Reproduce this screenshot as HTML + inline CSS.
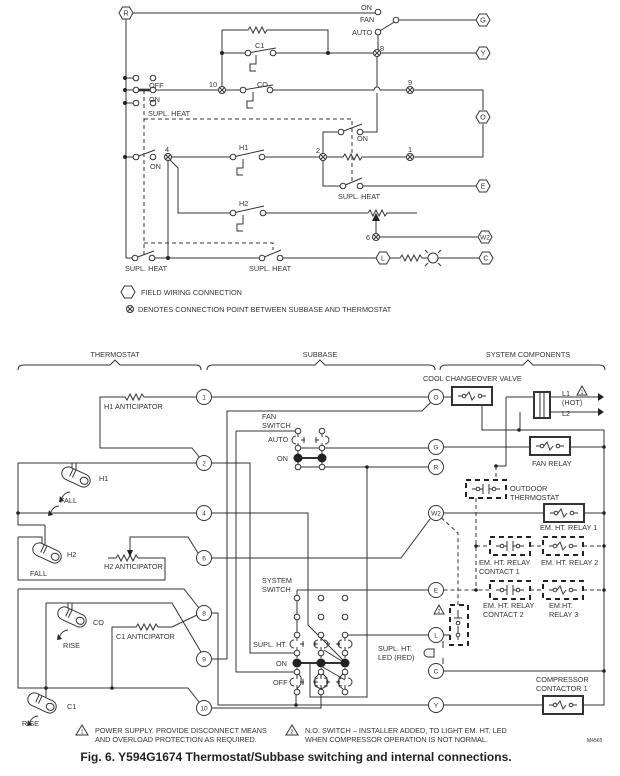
<!DOCTYPE html>
<html><head><meta charset="utf-8"><style>
html,body{margin:0;padding:0;background:#fff}
svg{display:block}
text{font-family:"Liberation Sans",Arial,sans-serif;font-size:7.3px;fill:#333}
.s65{font-size:6.5px}
.s5{font-size:5px}
</style></head><body>
<svg width="620" height="776" viewBox="0 0 620 776" xmlns="http://www.w3.org/2000/svg">
<defs>
<g id="hx"><polygon points="-7,0 -3.5,-6 3.5,-6 7,0 3.5,6 -3.5,6" fill="#fff" stroke="#333" stroke-width="1"/></g>
<g id="xn"><circle r="3.5" fill="#fff" stroke="#333"/><path d="M-2.4,-2.4L2.4,2.4M-2.4,2.4L2.4,-2.4" stroke="#333"/></g>
<g id="oc"><circle r="2.8" fill="#fff" stroke="#333"/></g>
<g id="tc"><circle r="7.5" fill="#fff" stroke="#333"/></g>
<g id="bm"><path d="M0,0V9H-6V16H0" fill="none" stroke="#333"/></g>
<g id="bulb"><g transform="rotate(25)"><rect x="-15" y="-6.5" width="30" height="13" rx="6.5" fill="#fff" stroke="#333"/><ellipse cx="9" cy="0" rx="4" ry="3.5" fill="none" stroke="#333"/><path d="M-6,-6.5V2M-3,-6.5V2" stroke="#333"/></g></g>
<g id="rly"><rect x="-20" y="-9" width="40" height="18" fill="#fff" stroke="#333" stroke-width="2"/><path d="M-14,0H-9M9,0H14M-6,0l3,-4l3,8l3,-4" fill="none" stroke="#333"/><circle cx="-8" r="1.8" fill="#fff" stroke="#333"/><circle cx="8" r="1.8" fill="#fff" stroke="#333"/></g>
<g id="drl"><rect x="-20" y="-9" width="40" height="18" fill="#fff" stroke="#222" stroke-width="2" stroke-dasharray="5,4"/><path d="M-14,0H-9M9,0H14M-6,0l3,-4l3,8l3,-4" fill="none" stroke="#333"/><circle cx="-8" r="1.8" fill="#fff" stroke="#333"/><circle cx="8" r="1.8" fill="#fff" stroke="#333"/></g>
<g id="dct"><rect x="-20" y="-9" width="40" height="18" fill="#fff" stroke="#222" stroke-width="2" stroke-dasharray="5,4"/><path d="M-14,0H-3M3,0H14M-3,-5V5M3,-5V5" fill="none" stroke="#333"/><circle cx="-8" r="1.8" fill="#fff" stroke="#333"/><circle cx="8" r="1.8" fill="#fff" stroke="#333"/></g>
</defs>

<g fill="none" stroke="#333" stroke-width="1">
<path d="M133,13H375"/>
<path d="M378,35V49.5"/>
<path d="M378,32L396,21"/>
<path d="M399,20H476"/>
<path d="M126,19V258H132"/>
<path d="M222,90V30H248l2,-3l3,6l3,-6l3,6l3,-6l3,6l2,-3H328V53"/>
<path d="M222,53H245M248,53L276,48M276,53H374M381,53H476"/>
<path d="M125,78H133M125,90H133M125,103H133"/>
<path d="M136,90H151" stroke-width="2.6"/>
<path d="M156,90H218.5M225.5,90H240M243,90L273,85M273,90H374a3,3 0 0 1 6,0H406.5M413.5,90H483V110M483,124V157H413.5"/>
<path d="M377,56.5V87M377,93V132H363"/>
<path d="M341,132L362,124M338,132H323V186H340M343,186L362,178M363,186H476"/>
<path d="M326.5,157H343l2,-3l3,6l3,-6l3,6l3,-6l3,6l2,-3H406.5"/>
<path d="M126,157H133M136,157L155,150M171.5,157H230M233,157L264,150M265,157H319.5"/>
<path d="M168,160.5V258M170,160L178,168V213H230M233,213L264,206M266,213H368l2,-3l3,6l3,-6l3,6l3,-6l3,6l2,-3H417"/>
<path d="M376,221V233.5M379.5,237H478"/>
<path d="M135,258L154,251M155,258H259M262,258L281,250M283,258H376M390,258H400l2,-3l3,6l3,-6l3,6l3,-6l3,6l3,-6l2,3H428M438,258H479"/>
<circle cx="433" cy="258" r="5"/><path d="M428,253l-3,-3M438,253l3,-3M428,263l-3,3M438,263l3,3"/>
<path d="M144,90V257M144,119H352V182M144,243H273V250" stroke-dasharray="4,3"/>
</g>
<polygon points="372,221 380,221 376,213" fill="#222"/>
<g fill="#222"><circle cx="222" cy="53" r="2"/><circle cx="328" cy="53" r="2"/><circle cx="125" cy="78" r="2"/><circle cx="125" cy="90" r="2"/><circle cx="125" cy="103" r="2"/><circle cx="125" cy="157" r="2"/><circle cx="168" cy="258" r="2"/></g>
<use href="#bm" x="256" y="55"/><use href="#bm" x="253" y="92"/><use href="#bm" x="243" y="159"/><use href="#bm" x="243" y="215"/>
<g>
<use href="#oc" x="378" y="12"/><use href="#oc" x="378" y="32"/><use href="#oc" x="396" y="20"/>
<use href="#oc" x="248" y="53"/><use href="#oc" x="273" y="53"/>
<use href="#oc" x="136" y="78"/><use href="#oc" x="136" y="90"/><use href="#oc" x="136" y="103"/>
<use href="#oc" x="153" y="78"/><use href="#oc" x="153" y="90"/><use href="#oc" x="153" y="103"/>
<use href="#oc" x="243" y="90"/><use href="#oc" x="270" y="90"/>
<use href="#oc" x="341" y="132"/><use href="#oc" x="360" y="132"/>
<use href="#oc" x="343" y="186"/><use href="#oc" x="360" y="186"/>
<use href="#oc" x="136" y="157"/><use href="#oc" x="153" y="157"/>
<use href="#oc" x="233" y="157"/><use href="#oc" x="262" y="157"/>
<use href="#oc" x="233" y="213"/><use href="#oc" x="263" y="213"/>
<use href="#oc" x="135" y="258"/><use href="#oc" x="152" y="258"/>
<use href="#oc" x="262" y="258"/><use href="#oc" x="280" y="258"/>
<use href="#xn" x="377" y="53"/><use href="#xn" x="222" y="90"/><use href="#xn" x="410" y="90"/>
<use href="#xn" x="410" y="157"/><use href="#xn" x="323" y="157"/><use href="#xn" x="168" y="157"/>
<use href="#xn" x="376" y="237"/>
<use href="#hx" x="126" y="13"/><use href="#hx" x="483" y="20"/><use href="#hx" x="483" y="53"/>
<use href="#hx" x="483" y="117"/><use href="#hx" x="483" y="186"/><use href="#hx" x="485" y="237"/>
<use href="#hx" x="383" y="258"/><use href="#hx" x="486" y="258"/>
<use href="#hx" x="128" y="292"/><use href="#xn" x="130" y="309"/>
</g>
<g text-anchor="middle">
<text x="126" y="15.5">R</text><text x="483" y="22.5">G</text><text x="483" y="55.5">Y</text>
<text x="483" y="119.5">O</text><text x="483" y="188.5">E</text><text x="485" y="239.5" class="s65">W2</text>
<text x="383" y="260.5">L</text><text x="486" y="260.5">C</text>
</g>
<text x="361" y="10">ON</text><text x="360" y="22">FAN</text><text x="352" y="35">AUTO</text>
<text x="380" y="51">8</text><text x="255" y="48">C1</text>
<text x="149" y="88">OFF</text><text x="149" y="102">ON</text><text x="148" y="116">SUPL. HEAT</text>
<text x="209" y="87">10</text><text x="257" y="87">CO</text><text x="408" y="85">9</text>
<text x="357" y="141">ON</text><text x="408" y="152">1</text><text x="316" y="153">2</text>
<text x="165" y="152">4</text><text x="150" y="169">ON</text><text x="239" y="150">H1</text>
<text x="338" y="199">SUPL. HEAT</text><text x="239" y="206">H2</text><text x="366" y="240">6</text>
<text x="125" y="271">SUPL. HEAT</text><text x="249" y="271">SUPL. HEAT</text>
<text x="141" y="295">FIELD WIRING CONNECTION</text>
<text x="138" y="312">DENOTES CONNECTION POINT BETWEEN SUBBASE AND THERMOSTAT</text>

<g text-anchor="middle"><text x="115" y="357">THERMOSTAT</text><text x="320" y="357">SUBBASE</text><text x="528" y="357">SYSTEM COMPONENTS</text></g>
<g fill="none" stroke="#333" stroke-width="1">
<path d="M18,370Q18,365 24,365H110L115,360L120,365H196Q201,365 201,370"/>
<path d="M207,370Q207,365 213,365H315L320,360L325,365H429Q435,365 435,370"/>
<path d="M440,370Q440,365 446,365H523L528,360L533,365H599Q605,365 605,370"/>

<path d="M196.5,397H144l-2,-3l-3,6l-3,-6l-3,6l-3,-6l-3,6l-2,-3H100V448H192L200,458"/>
<path d="M211.5,397H428.5"/>
<path d="M196.5,463H18V525M72,463V470M76,463V470"/>
<path d="M18,513H196.5"/>
<path d="M45,525V545M18,525H45"/>
<path d="M18,537H42V543M18,537V580H165V558H138l-2,-3l-3,6l-3,-6l-3,6l-3,-6l-3,6l-3,-6l-2,3H108"/>
<path d="M130,551V537H188L198,553"/>
<path d="M18,589H184L199,608M18,589V688H188L199,702"/>
<path d="M46,603H172L201,652M46,603V697M68,603V610M72,603V610"/>
<path d="M112,688V627H136l2,-3l3,6l3,-6l3,6l3,-6l3,6l3,-6l2,3H172L197,615"/>
<path d="M211.5,613H218V705H428.5"/>
<path d="M211.5,659H227V411H422L431,402"/>
<path d="M211.5,708H321V692"/>
<path d="M211.5,558H401L430,519"/>
<path d="M211.5,463H250V653H294"/>
<path d="M211.5,513H308V625L343,660"/>

<path d="M236,431H295M236,431V672H294"/>
<path d="M298,434V437M298,443V445M298,451V454M322,434V437M322,443V445M322,451V454M298,462V464M322,462V464"/>
<path d="M301,440H305M319,440H315M304,437V443M316,437V443"/>
<path d="M296,436a4,4 0 0 0 0,8M325,436a4,4 0 0 1 0,8"/>
<path d="M298,458H322" stroke-width="2"/>
<path d="M301,448H428.5M301,467H428.5"/>
<path d="M367,467V697H310V662"/>

<path d="M297,590H428.5M297,590V595M297,601V614M297,620V632"/>
<path d="M297,638V641M297,647V650M297,656V658M297,668V669M297,675V679M297,685V689"/>
<path d="M321,638V641M321,647V650M321,656V658M321,668V669M321,675V679M321,685V689"/>
<path d="M345,638V641M345,647V650M345,656V658M345,668V669M345,675V679M345,685V689"/>
<path d="M294,640a4,4 0 0 0 0,8M318,640a4,4 0 0 0 0,8M324,640a4,4 0 0 1 0,8M342,640a4,4 0 0 0 0,8M348,640a4,4 0 0 1 0,8"/>
<path d="M294,678a4,4 0 0 0 0,8M318,678a4,4 0 0 0 0,8M324,678a4,4 0 0 1 0,8M342,678a4,4 0 0 0 0,8M348,678a4,4 0 0 1 0,8"/>
<path d="M300,644H304M303,641V647M314,644H318M315,641V647M326,644H330M336,644H340M339,641V647"/>
<path d="M300,682H304M303,679V685M314,682H318M315,679V685M326,682H330M336,682H340M339,679V685"/>
<path d="M297,663H345" stroke-width="2"/>
<path d="M297,672l4,5v7l-4,5M321,672l-6,6v8l6,3M321,672l6,6v8l-6,3M345,672l-6,6v8l4,3"/>
<path d="M324,650L345,663M321,666L345,680"/>
<path d="M296,705V692"/>
<path d="M348,635H428.5"/>

<path d="M443.5,397H452M492,393H482V430H604V705H584M543,705H443.5"/>
<path d="M506,397H534M550,397H598M550,412H598M520,412V430"/>
<path d="M506,397V466H496"/>
<path d="M443.5,447H530M570,447H604"/>
<path d="M443.5,513H545M584,513H604"/>
<path d="M443.5,671H604"/>
<path d="M443.5,635H450"/>
<path d="M443,641V648M443,658V664"/>
<path d="M496,466V481M476,498V590M476,546H489M530,546H543M583,546H604M443.5,590H489M530,590H543M583,590H604M436,513L458,533V605" stroke-dasharray="4,3"/>
</g>
<polygon points="127,550 133,550 130,557" fill="#222"/>
<polygon points="598,393 604,397 598,401" fill="#222"/><polygon points="598,408 604,412 598,416" fill="#222"/>
<g fill="#222">
<circle cx="18" cy="513" r="1.8"/><circle cx="46" cy="688" r="1.8"/><circle cx="112" cy="688" r="1.8"/>
<circle cx="367" cy="467" r="1.8"/><circle cx="296" cy="705" r="1.8"/>
<circle cx="519" cy="430" r="1.8"/><circle cx="496" cy="466" r="1.8"/>
<circle cx="604" cy="447" r="1.8"/><circle cx="604" cy="513" r="1.8"/><circle cx="604" cy="546" r="1.8"/><circle cx="604" cy="590" r="1.8"/><circle cx="604" cy="671" r="1.8"/>
<circle cx="476" cy="546" r="1.8"/><circle cx="476" cy="590" r="1.8"/>
<circle cx="298" cy="458" r="4.5"/><circle cx="322" cy="458" r="4.5"/>
<circle cx="297" cy="663" r="4.5"/><circle cx="321" cy="663" r="4.5"/><circle cx="345" cy="663" r="4.5"/>
</g>
<g>
<use href="#oc" x="298" y="431"/><use href="#oc" x="322" y="431"/><use href="#oc" x="298" y="448"/><use href="#oc" x="322" y="448"/><use href="#oc" x="298" y="467"/><use href="#oc" x="322" y="467"/>
<use href="#oc" x="297" y="598"/><use href="#oc" x="321" y="598"/><use href="#oc" x="345" y="598"/>
<use href="#oc" x="297" y="617"/><use href="#oc" x="321" y="617"/><use href="#oc" x="345" y="617"/>
<use href="#oc" x="297" y="635"/><use href="#oc" x="321" y="635"/><use href="#oc" x="345" y="635"/>
<use href="#oc" x="297" y="653"/><use href="#oc" x="321" y="653"/><use href="#oc" x="345" y="653"/>
<use href="#oc" x="297" y="672"/><use href="#oc" x="321" y="672"/><use href="#oc" x="345" y="672"/>
<use href="#oc" x="297" y="692"/><use href="#oc" x="321" y="692"/><use href="#oc" x="345" y="692"/>
<use href="#tc" x="204" y="397"/><use href="#tc" x="204" y="463"/><use href="#tc" x="204" y="513"/><use href="#tc" x="204" y="558"/>
<use href="#tc" x="204" y="613"/><use href="#tc" x="204" y="659"/><use href="#tc" x="204" y="708"/>
<use href="#tc" x="436" y="397"/><use href="#tc" x="436" y="447"/><use href="#tc" x="436" y="467"/><use href="#tc" x="436" y="513"/>
<use href="#tc" x="436" y="590"/><use href="#tc" x="436" y="635"/><use href="#tc" x="436" y="671"/><use href="#tc" x="436" y="705"/>
<use href="#rly" x="472" y="396"/><use href="#rly" x="550" y="446"/><use href="#rly" x="564" y="513"/><use href="#rly" x="563" y="705"/>
<use href="#dct" x="486" y="489"/><use href="#dct" x="510" y="546"/><use href="#drl" x="563" y="546"/><use href="#dct" x="510" y="590"/><use href="#drl" x="563" y="590"/>
<use href="#bulb" x="76" y="477"/><use href="#bulb" x="47" y="553"/><use href="#bulb" x="72" y="617"/><use href="#bulb" x="42" y="703"/>
</g>
<rect x="534" y="392" width="16" height="26" fill="#fff" stroke="#333" stroke-width="2"/>
<path d="M540,392V418M544,392V418" stroke="#333"/>
<rect x="450" y="605" width="18" height="40" fill="none" stroke="#222" stroke-width="2" stroke-dasharray="5,4"/>
<path d="M458,610V618M454,618H462M458,626V640" stroke="#333" fill="none"/><circle cx="458" cy="623" r="1.8" fill="#fff" stroke="#333"/><circle cx="458" cy="635" r="1.8" fill="#fff" stroke="#333"/>
<path d="M428,649a4,4 0 0 0 0,8H434V649Z" fill="#fff" stroke="#333"/>
<g fill="none" stroke="#333"><path d="M70,492a9,9 0 0 0 -8,6M59,506a9,9 0 0 0 -8,6M68,630a9,9 0 0 0 -8,6M38,716a9,9 0 0 0 -8,6"/></g>
<g fill="#222"><polygon points="60,496 64,501 59,502"/><polygon points="49,510 53,515 48,516"/><polygon points="58,634 62,639 57,640"/><polygon points="28,720 32,725 27,726"/></g>
<g fill="#fff" stroke="#333"><polygon points="582,386 577,395 587,395"/><polygon points="439,605 434,614 444,614"/><polygon points="82,725 76,735 88,735"/><polygon points="292,725 286,735 298,735"/></g>
<g text-anchor="middle">
<text x="204" y="399.5" class="s65">1</text><text x="204" y="465.5" class="s65">2</text><text x="204" y="515.5" class="s65">4</text><text x="204" y="560.5" class="s65">6</text>
<text x="204" y="615.5" class="s65">8</text><text x="204" y="661.5" class="s65">9</text><text x="204" y="710.5" class="s65">10</text>
<text x="436" y="399.5" class="s65">O</text><text x="436" y="449.5" class="s65">G</text><text x="436" y="469.5" class="s65">R</text><text x="436" y="515.5" class="s65">W2</text>
<text x="436" y="592.5" class="s65">E</text><text x="436" y="637.5" class="s65">L</text><text x="436" y="673.5" class="s65">C</text><text x="436" y="707.5" class="s65">Y</text>
<text x="582" y="394" class="s5">1</text><text x="439" y="613" class="s5">2</text><text x="82" y="733.5" class="s5">1</text><text x="292" y="733.5" class="s5">2</text>
</g>
<text x="104" y="409">H1 ANTICIPATOR</text>
<text x="99" y="481">H1</text><text x="60" y="503">FALL</text>
<text x="67" y="557">H2</text><text x="30" y="576">FALL</text>
<text x="104" y="569">H2 ANTICIPATOR</text>
<text x="93" y="625">CO</text><text x="63" y="648">RISE</text>
<text x="116" y="639">C1 ANTICIPATOR</text>
<text x="67" y="709">C1</text><text x="22" y="726">RISE</text>
<text x="262" y="419">FAN</text><text x="262" y="428">SWITCH</text>
<text x="268" y="442">AUTO</text><text x="277" y="461">ON</text>
<text x="262" y="583">SYSTEM</text><text x="262" y="592">SWITCH</text>
<text x="253" y="647">SUPL. HT.</text><text x="276" y="666">ON</text><text x="273" y="685">OFF</text>
<text x="423" y="381">COOL CHANGEOVER VALVE</text>
<text x="562" y="396">L1</text><text x="562" y="405">(HOT)</text><text x="562" y="416">L2</text>
<text x="532" y="466">FAN RELAY</text>
<text x="510" y="491">OUTDOOR</text><text x="510" y="500">THERMOSTAT</text>
<text x="540" y="530">EM. HT. RELAY 1</text>
<text x="479" y="565">EM. HT. RELAY</text><text x="479" y="574">CONTACT 1</text>
<text x="541" y="565">EM. HT. RELAY 2</text>
<text x="483" y="608">EM. HT.  RELAY</text><text x="483" y="617">CONTACT 2</text>
<text x="549" y="608">EM.HT.</text><text x="549" y="617">RELAY 3</text>
<text x="378" y="651">SUPL. HT.</text><text x="378" y="660">LED (RED)</text>
<text x="536" y="682">COMPRESSOR</text><text x="536" y="691">CONTACTOR 1</text>
<text x="95" y="733">POWER SUPPLY. PROVIDE DISCONNECT MEANS</text>
<text x="95" y="742">AND OVERLOAD PROTECTION AS REQUIRED.</text>
<text x="305" y="733">N.O. SWITCH – INSTALLER ADDED, TO LIGHT EM. HT. LED</text>
<text x="305" y="742">WHEN COMPRESSOR OPERATION IS NOT NORMAL.</text>
<text x="587" y="742" class="s5">M4565</text>
<text x="296" y="761" text-anchor="middle" style="font-size:12px;font-weight:bold;fill:#222">Fig. 6. Y594G1674 Thermostat/Subbase switching and internal connections.</text>
</svg>
</body></html>
